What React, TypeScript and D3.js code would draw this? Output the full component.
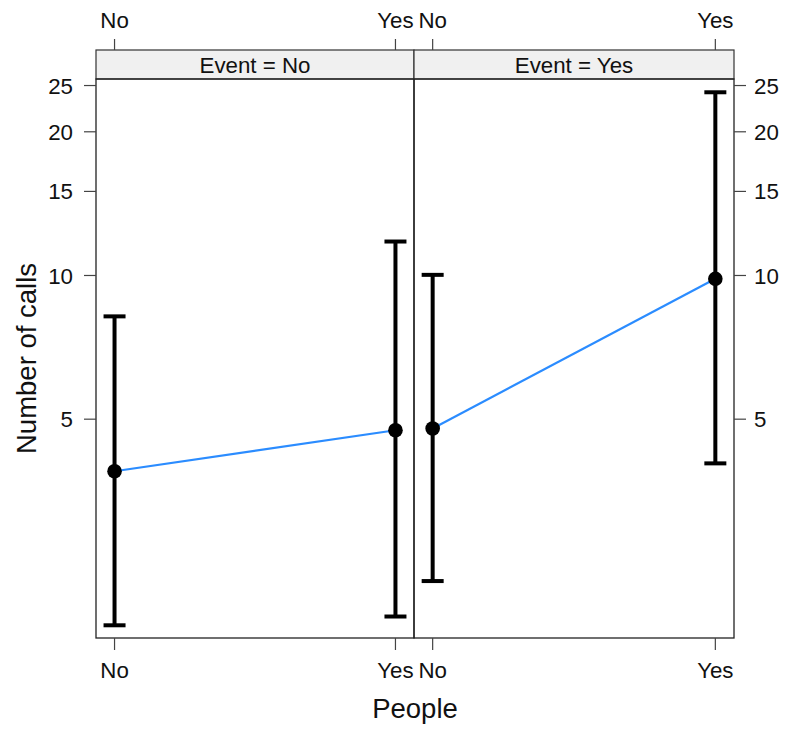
import React from "react";
import * as d3 from "d3";

const people = ["No", "Yes"];
const events = ["No", "Yes"];
// per panel (Event = No, Event = Yes), per People level
const fitNoEvent = [3.89, 4.74];
const lowerNoEvent = [1.85, 1.93];
const upperNoEvent = [8.21, 11.78];
const fitYesEvent = [4.78, 9.84];
const lowerYesEvent = [2.29, 4.04];
const upperYesEvent = [10.03, 24.2];
const yTicks = [5, 10, 15, 20, 25];

const W = 795;
const H = 729;
const top = 79;
const bottom = 638;
const stripH = 29;
const left = 96;
const right = 734;
const mid = 414;
const font = "Liberation Sans, Arial, Helvetica, sans-serif";
const tickFont = 22.3;

export default function App() {
  const y = d3.scaleLog().domain([1.74, 25.8]).range([bottom, top]);
  const panels = [
    { ev: events[0], x0: left, x1: mid, fit: fitNoEvent, lo: lowerNoEvent, hi: upperNoEvent },
    { ev: events[1], x0: mid, x1: right, fit: fitYesEvent, lo: lowerYesEvent, hi: upperYesEvent },
  ];
  const line = d3.line<[number, number]>().x((d) => d[0]).y((d) => d[1]);
  const capHalf = 11;
  return (
    <svg width={W} height={H} style={{ position: "absolute", left: 0, top: 0, background: "#fff" }} fontFamily={font}>
      {panels.map((p, pi) => {
        const x = d3.scalePoint<string>().domain(people).range([p.x0, p.x1]).padding(0.066);
        const pts: [number, number][] = people.map((c, i) => [x(c)!, y(p.fit[i])]);
        return (
          <g key={pi}>
            <rect x={p.x0} y={top - stripH} width={p.x1 - p.x0} height={stripH} fill="#f0f0f0" stroke="#333" strokeWidth={1.2} />
            <text x={(p.x0 + p.x1) / 2} y={top - stripH / 2} dy="0.36em" textAnchor="middle" fontSize={tickFont} fill="#111">
              {`Event = ${p.ev}`}
            </text>
            <rect x={p.x0} y={top} width={p.x1 - p.x0} height={bottom - top} fill="none" stroke="#222" strokeWidth={1.3} />
            {people.map((c) => (
              <g key={c}>
                <line x1={x(c)} x2={x(c)} y1={top - stripH} y2={top - stripH - 11} stroke="#444" strokeWidth={1.2} />
                <text x={x(c)} y={20} dy="0.36em" textAnchor="middle" fontSize={tickFont} fill="#111">{c}</text>
                <line x1={x(c)} x2={x(c)} y1={bottom} y2={bottom + 12} stroke="#444" strokeWidth={1.2} />
                <text x={x(c)} y={670} dy="0.36em" textAnchor="middle" fontSize={tickFont} fill="#111">{c}</text>
              </g>
            ))}
            <path d={line(pts) || ""} fill="none" stroke="#2b8cff" strokeWidth={2.2} />
            {people.map((c, i) => (
              <g key={c} stroke="#000" strokeWidth={4}>
                <line x1={x(c)} x2={x(c)} y1={y(p.lo[i])} y2={y(p.hi[i])} />
                <line x1={x(c)! - capHalf} x2={x(c)! + capHalf} y1={y(p.lo[i])} y2={y(p.lo[i])} />
                <line x1={x(c)! - capHalf} x2={x(c)! + capHalf} y1={y(p.hi[i])} y2={y(p.hi[i])} />
              </g>
            ))}
            {people.map((c, i) => (
              <circle key={c} cx={x(c)} cy={y(p.fit[i])} r={7.3} fill="#000" />
            ))}
          </g>
        );
      })}
      {yTicks.map((t) => (
        <g key={t}>
          <line x1={left} x2={left - 12} y1={y(t)} y2={y(t)} stroke="#444" strokeWidth={1.2} />
          <text x={73} y={y(t)} dy="0.36em" textAnchor="end" fontSize={tickFont} fill="#111">{t}</text>
          <line x1={right} x2={right + 12} y1={y(t)} y2={y(t)} stroke="#444" strokeWidth={1.2} />
          <text x={754} y={y(t)} dy="0.36em" textAnchor="start" fontSize={tickFont} fill="#111">{t}</text>
        </g>
      ))}
      <text x={(left + right) / 2} y={708} dy="0.36em" textAnchor="middle" fontSize={27.5} fill="#111">People</text>
      <text transform={`translate(26, ${(top + bottom) / 2}) rotate(-90)`} textAnchor="middle" dy="0.36em" fontSize={27.5} fill="#111">
        Number of calls
      </text>
    </svg>
  );
}
